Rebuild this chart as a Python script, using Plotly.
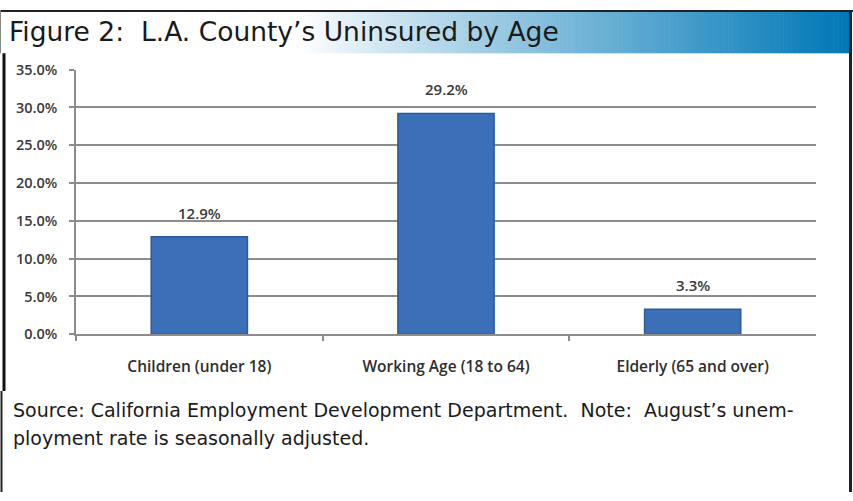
import plotly.graph_objects as go

# Data
categories = ["Children (under 18)", "Working Age (18 to 64)", "Elderly (65 and over)"]
uninsured_pct = [12.9, 29.2, 3.3]
y_ticks = [0, 5, 10, 15, 20, 25, 30, 35]
y_tick_labels = [f"{v:.1f}%" for v in y_ticks]

W, H = 853, 501
X0, X1 = 76, 816      # plot area in pixels
Y_TOP, Y_BOT = 62, 337

LABEL_FONT = "Open Sans"

fig = go.Figure()
fig.add_trace(go.Bar(
    x=categories,
    y=uninsured_pct,
    marker=dict(color="#3b70b9", line=dict(color="#2a5a9c", width=1.5)),
    width=0.39,
    hoverinfo="skip",
))

# value labels above each bar
for c, v in zip(categories, uninsured_pct):
    fig.add_annotation(x=c, y=v, text=f"{v:.1f}%", showarrow=False,
                       yanchor="bottom", yshift=12,
                       font=dict(family=LABEL_FONT, size=15, weight=600, color="#3a3a3a"))

shapes = []
# header gradient bar (white -> blue)
n = 140
hx0, hx1 = 300, 850
shapes.append(dict(type="rect", xref="paper", yref="paper", x0=0, x1=hx0 / W,
                   y0=1 - 45 / H, y1=1, fillcolor="white", line_width=0, layer="below"))
for i in range(n):
    t = i / (n - 1)
    r = round(255 + (0 - 255) * t ** 0.9)
    g = round(255 + (120 - 255) * t ** 0.9)
    b = round(255 + (183 - 255) * t ** 0.9)
    xa = hx0 + (hx1 - hx0) * i / n
    xb = hx0 + (hx1 - hx0) * (i + 1) / n + 0.6
    shapes.append(dict(type="rect", xref="paper", yref="paper",
                       x0=xa / W, x1=xb / W, y0=1 - 45 / H, y1=1,
                       fillcolor=f"rgb({r},{g},{b})", line_width=0, layer="below"))
# frame lines
shapes.append(dict(type="line", xref="paper", yref="paper", x0=0, x1=1,
                   y0=1 - 1 / H, y1=1 - 1 / H, line=dict(color="#222222", width=2)))
shapes.append(dict(type="line", xref="paper", yref="paper", x0=0.5 / W, x1=0.5 / W,
                   y0=1 - 45 / H, y1=1, line=dict(color="#888888", width=1)))
shapes.append(dict(type="line", xref="paper", yref="paper", x0=4 / W, x1=4 / W,
                   y0=1 - 396 / H, y1=1 - 45 / H, line=dict(color="#111111", width=3)))
shapes.append(dict(type="line", xref="paper", yref="paper", x0=1.5 / W, x1=1.5 / W,
                   y0=0, y1=1 - 396 / H, line=dict(color="#222222", width=2)))
shapes.append(dict(type="line", xref="paper", yref="paper", x0=850.5 / W, x1=850.5 / W,
                   y0=0, y1=1, line=dict(color="#222222", width=3)))

fig.update_layout(
    width=W, height=H,
    margin=dict(l=0, r=0, t=0, b=0),
    paper_bgcolor="white", plot_bgcolor="white",
    showlegend=False,
    bargap=0.61,
    shapes=shapes,
    xaxis=dict(
        domain=[X0 / W, X1 / W],
        showline=True, linecolor="#8c8c8c", linewidth=1.5,
        ticks="outside", tickson="boundaries", ticklen=5, tickcolor="#8c8c8c", tickwidth=1.5,
        ticklabelstandoff=17,
        tickfont=dict(family=LABEL_FONT, size=15.5, weight=600, color="#2e2e2e"),
        showgrid=False,
        fixedrange=True,
    ),
    yaxis=dict(
        domain=[1 - Y_BOT / H, 1 - Y_TOP / H],
        range=[0, 35],
        tickvals=y_ticks, ticktext=y_tick_labels,
        showline=True, linecolor="#8c8c8c", linewidth=1.5,
        ticks="outside", ticklen=5, tickcolor="#8c8c8c", tickwidth=1.5,
        ticklabelstandoff=9,
        showgrid=True, gridcolor="#8c8c8c", gridwidth=1.5,
        zeroline=False,
        tickfont=dict(family=LABEL_FONT, size=14.5, weight=600, color="#3a3a3a"),
        fixedrange=True,
    ),
)

# header title
fig.add_annotation(xref="paper", yref="paper", x=7 / W, y=1 - 22 / H,
                   xanchor="left", yanchor="middle", showarrow=False,
                   text="Figure 2:  L.A. County\u2019s Uninsured by Age",
                   font=dict(family="DejaVu Sans", size=26.5, color="#1a1a1a"))

# footnote, two lines
fig.add_annotation(xref="paper", yref="paper", x=11 / W, y=1 - 416 / H,
                   xanchor="left", yanchor="middle", showarrow=False, align="left",
                   text="Source: California Employment Development Department.  Note:  August\u2019s unem-",
                   font=dict(family="DejaVu Sans", size=19, color="#1a1a1a"))
fig.add_annotation(xref="paper", yref="paper", x=11 / W, y=1 - 445 / H,
                   xanchor="left", yanchor="middle", showarrow=False, align="left",
                   text="ployment rate is seasonally adjusted.",
                   font=dict(family="DejaVu Sans", size=19, color="#1a1a1a"))

fig.write_html("out.html")
